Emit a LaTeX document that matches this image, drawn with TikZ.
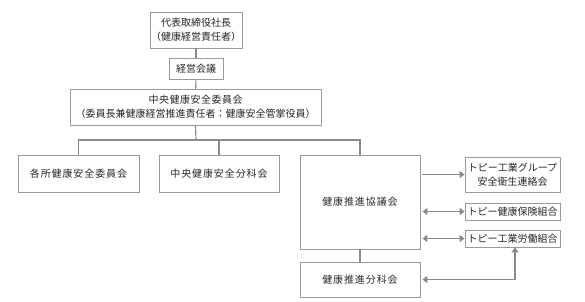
\documentclass[tikz,border=0pt]{standalone}
\usepackage{fontspec}
\newfontfamily\cjk{Noto Sans CJK JP}
\newfontfamily\cjkw[LetterSpace=9]{Noto Sans CJK JP}
\newfontfamily\cjkm[LetterSpace=5]{Noto Sans CJK JP}
\usetikzlibrary{arrows.meta,calc}
\definecolor{linegray}{HTML}{8A8A8A}
\definecolor{boxgray}{HTML}{9A9A9A}
\definecolor{txt}{HTML}{262626}
\begin{document}
\begin{tikzpicture}[x=1pt,y=1pt,
  box/.style={draw=boxgray,line width=0.8pt,inner sep=0pt,align=center,text=txt,
    font=\cjk\fontsize{10}{14}\selectfont},
  wide/.style={font=\cjkw\fontsize{10}{14}\selectfont},
  conn/.style={draw=linegray,line width=1.1pt},
  arr/.style={draw=linegray,line width=1.4pt,shorten <=2pt,
    arrows={Triangle[length=5pt,width=7pt,fill=linegray]-Triangle[length=5pt,width=7pt,fill=linegray]}},
  arr1/.style={draw=linegray,line width=1.4pt,shorten <=2pt,
    arrows={-Triangle[length=5pt,width=7pt,fill=linegray]}}]
\useasboundingbox (0,0) rectangle (585,301);
\node[box,minimum width=92,minimum height=36] (ceo) at (196,271) {代表取締役社長\\（健康経営責任者）};
\node[box,minimum width=54,minimum height=21] (keiei) at (196,232.5) {経営会議};
\node[box,minimum width=251,minimum height=36] (chuo) at (195.5,194) {{\cjkm 中央健康安全委員会}\\（委員長兼健康経営推進責任者：健康安全管掌役員）};
\coordinate (bus) at (196,161);
\node[box,wide,minimum width=121,minimum height=37] (kakusho) at (78.5,127.5) {各所健康安全委員会};
\node[box,wide,minimum width=120,minimum height=37] (bunka) at (219,127.5) {中央健康安全分科会};
\node[box,wide,minimum width=120,minimum height=94] (kyogi) at (360,99) {健康推進協議会};
\node[box,wide,minimum width=120,minimum height=35] (suishin) at (360,21.5) {健康推進分科会};
\node[box,minimum width=95,minimum height=35] (group) at (512.5,126.5) {トピー工業グループ\\安全衛生連絡会};
\node[box,minimum width=95,minimum height=17] (kenpo) at (512.5,89.5) {トピー健康保険組合};
\node[box,minimum width=95,minimum height=17] (rodo) at (512.5,62.5) {トピー工業労働組合};
\coordinate (rodoin) at ($(rodo.south)+(2.5,0)$);
\draw[conn] (ceo) -- (keiei);
\draw[conn] (keiei) -- (chuo);
\draw[conn] (chuo.south) -- (bus);
\draw[conn] (kakusho.north) |- (bus) -| (kyogi.north);
\draw[conn] (bunka.north) -- (bunka.north |- bus);
\draw[conn] (kyogi) -- (suishin);
\draw[arr1] (kyogi.east |- group) -- (group.west);
\draw[arr] (kyogi.east |- kenpo) -- (kenpo.west);
\draw[arr] (kyogi.east |- rodo) -- (rodo.west);
\draw[arr] (suishin.east) -| (rodoin);
\end{tikzpicture}
\end{document}
